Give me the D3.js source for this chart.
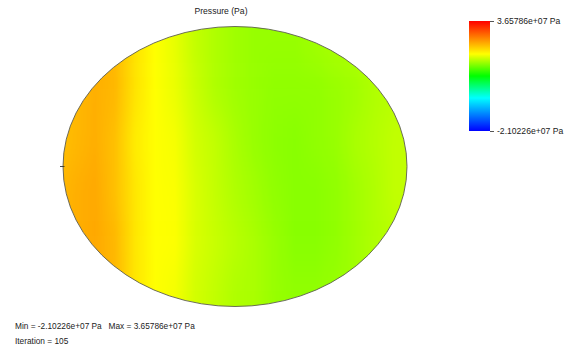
<!DOCTYPE html>
<html><head><meta charset="utf-8">
<script src="https://cdn.jsdelivr.net/npm/d3@7"></script>
<style>
body{margin:0;background:#fff}
svg{display:block}
text{font-family:"Liberation Sans",Arial,sans-serif;fill:#222;font-size:8.6px}
</style>
</head><body>
<svg id="c" width="567" height="349"></svg>
<script>
// Pressure in MPa (1e6 Pa)
const pMin = -21.0226, pMax = 36.5786;
const titleText = "Pressure (Pa)";
const legendLabels = ["3.65786e+07 Pa", "-2.10226e+07 Pa"];
const footerMin = "Min = -2.10226e+07 Pa";
const footerMax = "Max = 3.65786e+07 Pa";
const footerIter = "Iteration = 105";

// sampling positions across the section (normalized, -1..1)
const colPos = [-1.047,-0.930,-0.814,-0.698,-0.581,-0.465,-0.349,-0.233,-0.116,0,0.116,0.233,0.349,0.465,0.581,0.698,0.814,0.930,1.047];
const rowPos = [-0.89,-0.53,-0.18,0.18,0.54,0.90];
// pressure values (MPa) per row, per column
const row0 = [24.1,24.1,24.6,24.1,21.2,19.3,18.2,16.6,15.7,15.0,14.6,14.6,14.6,15.0,15.4,15.7,16.1,16.5,16.5];
const row1 = [23.6,24.1,24.7,24.1,21.2,19.3,18.4,16.9,15.7,15.0,14.6,14.3,14.3,14.3,14.6,15.0,15.7,16.1,16.1];
const row2 = [23.4,24.1,24.8,23.6,20.6,19.3,18.9,17.3,16.5,15.4,14.6,14.1,13.9,14.3,14.6,15.4,15.9,16.5,16.5];
const row3 = [24.0,24.7,25.2,23.6,21.0,19.3,19.1,17.6,16.6,15.7,15.0,14.3,13.9,13.9,14.3,15.0,15.7,16.5,16.5];
const row4 = [24.1,24.7,25.2,24.1,21.0,19.3,19.2,17.6,16.8,16.1,15.4,14.6,13.9,13.9,14.3,15.0,15.7,16.1,16.1];
const row5 = [24.1,24.7,25.2,24.1,21.0,19.3,18.8,17.3,16.5,15.7,15.4,14.6,14.3,14.3,14.6,15.0,15.7,16.1,16.1];
const pressureRows = [row0,row1,row2,row3,row4,row5];

const svg = d3.select("#c");
const defs = svg.append("defs");

const x = d3.scaleLinear().domain([-1,1]).range([63,407]);
const y = d3.scaleLinear().domain([-1,1]).range([26.5,306.5]);

const span = pMax - pMin;
const color = d3.scaleLinear()
  .domain([pMin, pMin+0.3*span, pMin+0.5*span, pMin+0.7*span, pMax])
  .range(["#0000ff","#00ffff","#00ff00","#ffff00","#ff0000"])
  .interpolate(d3.interpolateRgb);

// horizontal gradients per row
const gx1 = x(colPos[0]), gx2 = x(colPos[colPos.length-1]);
pressureRows.forEach((row,i)=>{
  const g = defs.append("linearGradient").attr("id","rg"+i)
    .attr("gradientUnits","userSpaceOnUse")
    .attr("x1",gx1).attr("x2",gx2).attr("y1",0).attr("y2",0);
  row.forEach((v,j)=>{
    g.append("stop").attr("offset",(x(colPos[j])-gx1)/(gx2-gx1)).attr("stop-color",color(v));
  });
});

const blur = defs.append("filter").attr("id","vb")
  .attr("filterUnits","userSpaceOnUse").attr("x",0).attr("y",-60).attr("width",567).attr("height",480);
blur.append("feGaussianBlur").attr("stdDeviation","1 17");

defs.append("clipPath").attr("id","ell").append("ellipse")
  .attr("cx",x(0)).attr("cy",y(0)).attr("rx",x(1)-x(0)).attr("ry",y(1)-y(0));

const field = svg.append("g").attr("clip-path","url(#ell)").append("g").attr("filter","url(#vb)");
const ys = rowPos.map(r=>y(r));
field.selectAll("rect").data(pressureRows).join("rect")
  .attr("x",gx1).attr("width",gx2-gx1)
  .attr("y",(d,i)=> i===0 ? -40 : (ys[i-1]+ys[i])/2)
  .attr("height",(d,i)=>{
    const top = i===0 ? -40 : (ys[i-1]+ys[i])/2;
    const bot = i===ys.length-1 ? 390 : (ys[i]+ys[i+1])/2;
    return bot-top;
  })
  .attr("fill",(d,i)=>"url(#rg"+i+")");

svg.append("ellipse")
  .attr("cx",x(0)).attr("cy",y(0)).attr("rx",x(1)-x(0)).attr("ry",y(1)-y(0))
  .attr("fill","none").attr("stroke","#5e5e50").attr("stroke-width",0.9);
svg.append("line").attr("x1",x(-1)-3).attr("x2",x(-1)+1.5).attr("y1",y(0)).attr("y2",y(0))
  .attr("stroke","#333").attr("stroke-width",0.9);

// title
svg.append("text").attr("x",221).attr("y",13.5).attr("text-anchor","middle").text(titleText);

// legend
const ly = d3.scaleLinear().domain([pMin,pMax]).range([131,21]);
const lg = defs.append("linearGradient").attr("id","lg")
  .attr("gradientUnits","userSpaceOnUse").attr("x1",0).attr("x2",0)
  .attr("y1",ly(pMin)).attr("y2",ly(pMax));
color.domain().forEach(v=>{
  lg.append("stop").attr("offset",(v-pMin)/span).attr("stop-color",color(v));
});
svg.append("rect").attr("x",469).attr("y",ly(pMax)).attr("width",21).attr("height",ly(pMin)-ly(pMax))
  .attr("fill","url(#lg)");
const axis = d3.axisRight(ly).tickValues([pMax,pMin]).tickSize(4).tickPadding(3)
  .tickFormat((d,i)=>legendLabels[i]);
const ag = svg.append("g").attr("transform","translate(490,0)").call(axis);
ag.select(".domain").remove();
ag.selectAll("line").attr("stroke","#555");
ag.selectAll("text").attr("fill","#222").style("font-size","8.6px")
  .style("font-family","\"Liberation Sans\",Arial,sans-serif");

// footer
svg.append("text").attr("x",15).attr("y",328.5).style("font-size","8.3px").text(footerMin);
svg.append("text").attr("x",108.5).attr("y",328.5).style("font-size","8.3px").text(footerMax);
svg.append("text").attr("x",15).attr("y",343.5).style("font-size","8.3px").text(footerIter);
</script>
</body></html>
